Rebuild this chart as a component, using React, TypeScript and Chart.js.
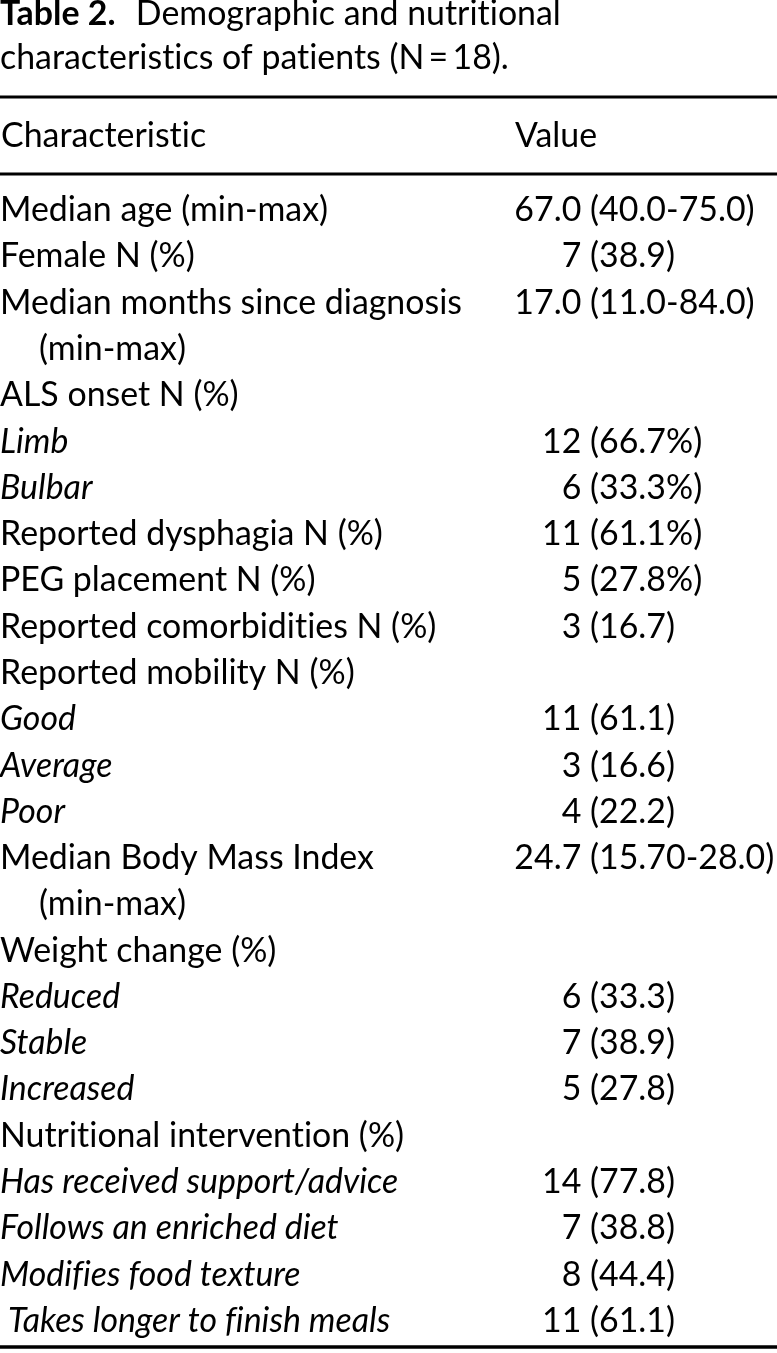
import React, { useEffect, useRef } from "react";
import { Chart, registerables } from "chart.js";

Chart.register(...registerables);

// ---- data ----
const titleBold = "Table 2.";
const titleRest = "Demographic and nutritional";
const titleLine2 = "characteristics of patients (N\u2009=\u200918).";
const headerLabels = ["Characteristic", "Value"];

const rowLabels = [
  "Median age (min-max)",
  "Female N (%)",
  "Median months since diagnosis",
  "(min-max)",
  "ALS onset N (%)",
  "Limb",
  "Bulbar",
  "Reported dysphagia N (%)",
  "PEG placement N (%)",
  "Reported comorbidities N (%)",
  "Reported mobility N (%)",
  "Good",
  "Average",
  "Poor",
  "Median Body Mass Index",
  "(min-max)",
  "Weight change (%)",
  "Reduced",
  "Stable",
  "Increased",
  "Nutritional intervention (%)",
  "Has received support/advice",
  "Follows an enriched diet",
  "Modifies food texture",
  " Takes longer to finish meals",
];

const rowValues = [
  "67.0 (40.0-75.0)",
  "7 (38.9)",
  "17.0 (11.0-84.0)",
  "",
  "",
  "12 (66.7%)",
  "6 (33.3%)",
  "11 (61.1%)",
  "5 (27.8%)",
  "3 (16.7)",
  "",
  "11 (61.1)",
  "3 (16.6)",
  "4 (22.2)",
  "24.7 (15.70-28.0)",
  "",
  "",
  "6 (33.3)",
  "7 (38.9)",
  "5 (27.8)",
  "",
  "14 (77.8)",
  "7 (38.8)",
  "8 (44.4)",
  "11 (61.1)",
];

// main = top-level characteristic, sub = sub-category, cont = continuation line
const rowKinds = [
  "main", "main", "main", "cont", "main", "sub", "sub", "main", "main", "main",
  "main", "sub", "sub", "sub", "main", "cont", "main", "sub", "sub", "sub",
  "main", "sub", "sub", "sub", "sub",
];

// ---- layout constants ----
const W = 777;
const H = 1353;
const FAMILY = "Lato, 'Open Sans', sans-serif";

const tablePlugin = {
  id: "tableText",
  beforeDraw(chart: any) {
    const ctx = chart.ctx;
    ctx.save();
    ctx.fillStyle = "#ffffff";
    ctx.fillRect(0, 0, chart.width, chart.height);
    ctx.restore();
  },
  afterDraw(chart: any) {
    const ctx = chart.ctx as any;
    const yS = chart.scales.y;
    ctx.save();
    ctx.fillStyle = "#000";
    ctx.strokeStyle = "#000";
    ctx.textBaseline = "alphabetic";
    try {
      ctx.letterSpacing = "0.01px";
    } catch (e) {}

    // fit font size to reference width of longest label
    ctx.font = `100px ${FAMILY}`;
    const ref = ctx.measureText("Median months since diagnosis").width;
    const fs = Math.min(34, (100 * 462) / ref);
    const reg = `${fs}px ${FAMILY}`;
    const ital = `italic ${fs}px ${FAMILY}`;
    const bold = `bold ${fs}px ${FAMILY}`;

    // title
    ctx.textAlign = "left";
    ctx.font = bold;
    ctx.fillText(titleBold, 0, 25);
    const bw = ctx.measureText(titleBold).width;
    ctx.font = reg;
    ctx.fillText(titleRest, bw + fs * 0.6, 25);
    ctx.fillText(titleLine2, 0, 69);

    // rules
    const rule = (y: number, t: number) => {
      ctx.fillRect(0, y - t / 2, W, t);
    };
    rule(97, 3);
    rule(174, 3);
    rule(1347, 3.5);

    // headers
    ctx.font = reg;
    ctx.fillText(headerLabels[0], 1, 147);
    ctx.fillText(headerLabels[1], 515, 147);

    const anchor = 590;
    for (let i = 0; i < rowLabels.length; i++) {
      const yc = yS.getPixelForValue(i);
      const yb = yc + 11;
      const kind = rowKinds[i];
      ctx.font = kind === "sub" ? ital : reg;
      ctx.textAlign = "left";
      const x = kind === "cont" ? 39 : 0;
      ctx.fillText(rowLabels[i], x, yb);

      const v = rowValues[i];
      if (v) {
        ctx.font = reg;
        const k = v.indexOf(" (");
        const left = v.slice(0, k);
        const right = v.slice(k + 1);
        const sp = ctx.measureText(" ").width;
        ctx.textAlign = "right";
        ctx.fillText(left, anchor - sp, yb);
        ctx.textAlign = "left";
        ctx.fillText(right, anchor, yb);
      }
    }
    ctx.restore();
  },
};

export default function App() {
  const ref = useRef<HTMLCanvasElement | null>(null);
  useEffect(() => {
    document.body.style.margin = "0";
    const canvas = ref.current;
    if (!canvas) return;
    const chart = new Chart(canvas, {
      type: "bar",
      data: { labels: rowLabels, datasets: [] },
      options: {
        animation: false,
        responsive: false,
        devicePixelRatio: 1,
        indexAxis: "y",
        layout: { padding: { top: 187, bottom: 9, left: 0, right: 0 } },
        scales: {
          y: { type: "category", offset: true, display: false },
          x: { type: "linear", display: false, min: 0, max: 1 },
        },
        plugins: {
          legend: { display: false },
          tooltip: { enabled: false },
          title: { display: false },
        },
      } as any,
      plugins: [tablePlugin],
    });
    return () => chart.destroy();
  }, []);
  return (
    <canvas
      ref={ref}
      width={W}
      height={H}
      style={{ display: "block", width: W, height: H }}
    />
  );
}
